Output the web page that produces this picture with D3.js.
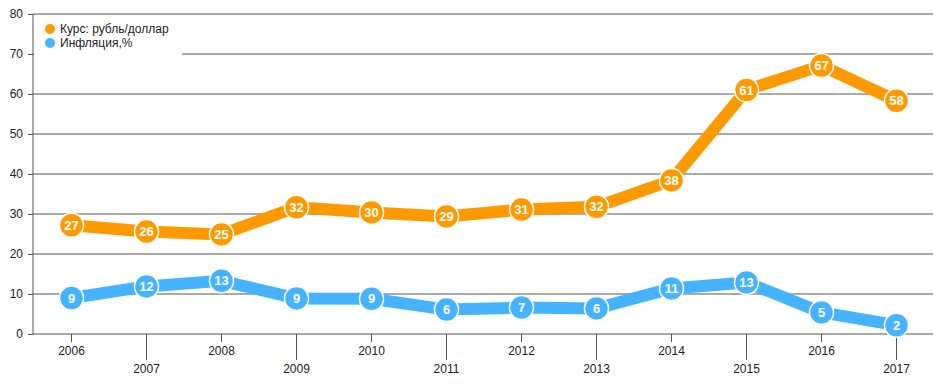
<!DOCTYPE html>
<html>
<head>
<meta charset="utf-8">
<script src="https://cdn.jsdelivr.net/npm/d3@7"></script>
<style>
  body { margin: 0; background: #fff; }
  text { font-family: Arial, "Liberation Sans", sans-serif; }
</style>
</head>
<body>
<div id="chart"></div>
<script>
// data
var years = ["2006", "2007", "2008", "2009", "2010", "2011", "2012", "2013", "2014", "2015", "2016", "2017"];
var rate = [27.2, 25.6, 24.9, 31.7, 30.4, 29.4, 31.1, 31.8, 38.4, 61.0, 67.1, 58.3];
var inflation = [9.0, 11.9, 13.3, 8.9, 8.8, 6.1, 6.6, 6.4, 11.4, 12.9, 5.4, 2.2];
var seriesNames = ["Курс: рубль/доллар", "Инфляция,%"];
var colors = ["#ff9900", "#45b3ff"];
var yTicks = [0, 10, 20, 30, 40, 50, 60, 70, 80];

var margin = { top: 14, right: 10, bottom: 50, left: 33 },
  width = 943 - margin.left - margin.right,
  height = 384 - margin.top - margin.bottom;

var svg = d3.select("#chart")
  .append("svg")
  .attr("width", width + margin.left + margin.right)
  .attr("height", height + margin.top + margin.bottom)
  .append("g")
  .attr("transform", "translate(" + margin.left + "," + margin.top + ")");

var x = d3.scaleBand()
  .domain(years)
  .range([0, width]);

var y = d3.scaleLinear()
  .domain([0, 80])
  .range([height, 0]);

// gridlines
svg.append("g")
  .selectAll("line")
  .data(yTicks.slice(1))
  .enter().append("line")
  .attr("x1", 0)
  .attr("x2", width)
  .attr("y1", function (d) { return y(d); })
  .attr("y2", function (d) { return y(d); })
  .attr("stroke", "#555")
  .attr("stroke-width", 1);

// y axis
var yAxis = svg.append("g")
  .call(d3.axisLeft(y).tickValues(yTicks).tickSize(5).tickPadding(5));
yAxis.selectAll("text").attr("font-size", 12).attr("fill", "#222");
yAxis.selectAll("line, path").attr("stroke", "#555");
yAxis.select(".domain").attr("d", "M0," + height + "V0");

// x axis
var xAxis = svg.append("g")
  .attr("transform", "translate(0," + height + ")");
xAxis.append("line")
  .attr("x1", 0).attr("x2", width)
  .attr("stroke", "#555");
var xt = xAxis.selectAll("g.tick")
  .data(years)
  .enter().append("g")
  .attr("class", "tick")
  .attr("transform", function (d) { return "translate(" + (x(d) + x.bandwidth() / 2 + 1) + ",0)"; });
xt.append("line")
  .attr("y2", function (d, i) { return i % 2 === 0 ? 8 : 26; })
  .attr("stroke", "#555");
xt.append("text")
  .attr("y", function (d, i) { return i % 2 === 0 ? 21 : 39; })
  .attr("text-anchor", "middle")
  .attr("font-size", 12)
  .attr("fill", "#222")
  .text(function (d) { return d; });

// lines and points
var allSeries = [rate, inflation];
var line = d3.line()
  .x(function (d, i) { return x(years[i]) + x.bandwidth() / 2 + 1; })
  .y(function (d) { return y(d); });

allSeries.forEach(function (vals, s) {
  svg.append("path")
    .datum(vals)
    .attr("fill", "none")
    .attr("stroke", colors[s])
    .attr("stroke-width", 12)
    .attr("stroke-linejoin", "round")
    .attr("d", line);
});

allSeries.forEach(function (vals, s) {
  var pts = svg.append("g")
    .selectAll("g")
    .data(vals)
    .enter().append("g")
    .attr("transform", function (d, i) {
      return "translate(" + (x(years[i]) + x.bandwidth() / 2 + 1) + "," + y(d) + ")";
    });
  pts.append("circle")
    .attr("r", 12)
    .attr("fill", colors[s])
    .attr("stroke", "#fff")
    .attr("stroke-width", 1.5);
  pts.append("text")
    .attr("text-anchor", "middle")
    .attr("dy", "0.36em")
    .attr("font-size", 13)
    .attr("font-weight", "bold")
    .attr("fill", "#fff")
    .text(function (d) { return Math.round(d); });
});

// legend
var legend = svg.append("g")
  .attr("transform", "translate(1,3)");
legend.append("rect")
  .attr("width", 148)
  .attr("height", 40)
  .attr("fill", "#fff");
var li = legend.selectAll("g")
  .data(seriesNames)
  .enter().append("g")
  .attr("transform", function (d, i) { return "translate(16," + (12 + i * 14) + ")"; });
li.append("circle")
  .attr("r", 5)
  .attr("fill", function (d, i) { return colors[i]; });
li.append("text")
  .attr("x", 10)
  .attr("dy", "0.35em")
  .attr("font-size", 12)
  .attr("fill", "#222")
  .text(function (d) { return d; });
</script>
</body>
</html>
